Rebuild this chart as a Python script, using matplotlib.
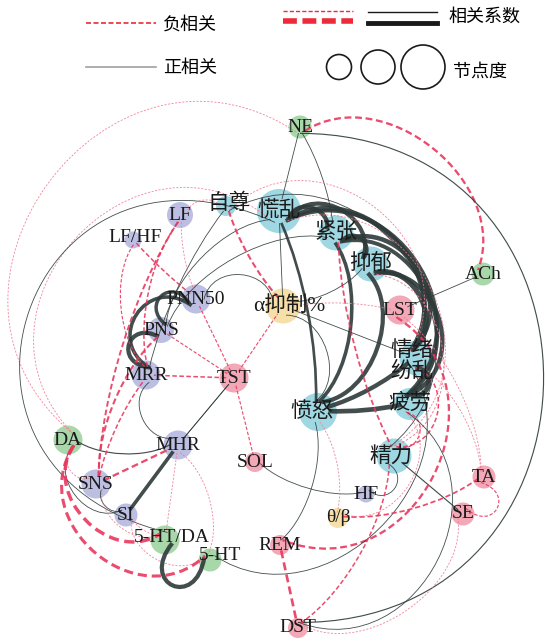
import numpy as np
import matplotlib.pyplot as plt
from matplotlib.path import Path
from matplotlib.patches import PathPatch, Circle

plt.rcParams['font.family'] = ['Liberation Serif', 'Noto Sans CJK SC']

# ===============================
# DATA
# ===============================
NODES = ["NE", "自尊", "慌乱", "紧张", "抑郁", "ACh", "LF", "LF/HF", "PNN50",
         "α抑制%", "LST", "PNS", "情绪\n纷乱", "MRR", "TST", "愤怒", "疲劳", "DA",
         "MHR", "SOL", "精力", "TA", "SNS", "HF", "θ/β", "SE", "SI", "5-HT/DA",
         "5-HT", "REM", "DST"]
GROUP = ["neuro", "emo", "emo", "emo", "emo", "neuro", "hrv", "hrv", "hrv",
         "eeg", "sleep", "hrv", "emo", "hrv", "sleep", "emo", "emo", "neuro",
         "hrv", "sleep", "emo", "sleep", "hrv", "hrv", "eeg", "sleep", "hrv", "neuro",
         "neuro", "sleep", "sleep"]
DEGREE = [5, 4, 12, 9, 9, 5, 6, 3, 7,
          9, 7, 6, 9, 7, 7, 10, 8, 7,
          7, 4, 9, 5, 7, 3, 4, 5, 5, 7,
          5, 4, 4]

# edges: source, target, correlation coefficient
EDGE_A = ["慌乱", "慌乱", "慌乱", "慌乱", "慌乱", "紧张", "紧张", "紧张", "紧张",
          "抑郁", "抑郁", "抑郁", "情绪\n纷乱", "情绪\n纷乱", "疲劳",
          "精力", "精力", "紧张", "慌乱", "抑郁", "精力", "HF", "SOL",
          "LST", "LST", "α抑制%", "TA",
          "NE", "NE", "NE", "NE", "NE", "慌乱", "慌乱",
          "DA", "DA", "MRR", "TST", "自尊", "慌乱", "紧张",
          "PNN50", "α抑制%", "α抑制%", "α抑制%", "α抑制%", "自尊",
          "PNN50", "PNN50", "PNS",
          "LF/HF", "LF", "LF", "LF", "LF/HF", "LF", "PNS", "MRR", "SNS", "SI", "SNS",
          "MHR", "MHR", "SNS", "SI", "SI", "DA",
          "TST", "TST", "TST", "TST", "TST", "TST",
          "5-HT/DA", "DA", "DA", "情绪\n纷乱",
          "REM", "DST", "DST", "SE", "REM",
          "θ/β", "θ/β", "θ/β", "TA", "TA", "自尊", "自尊"]
EDGE_B = ["紧张", "抑郁", "情绪\n纷乱", "疲劳", "愤怒", "抑郁", "情绪\n纷乱", "疲劳", "愤怒",
          "情绪\n纷乱", "疲劳", "愤怒", "疲劳", "愤怒", "愤怒",
          "疲劳", "情绪\n纷乱", "精力", "精力", "精力", "SE", "精力", "HF",
          "ACh", "REM", "LST", "LST",
          "慌乱", "紧张", "ACh", "DST", "DA", "DA", "5-HT/DA",
          "SI", "MHR", "MHR", "MHR", "MRR", "PNS", "PNS",
          "α抑制%", "抑郁", "慌乱", "愤怒", "情绪\n纷乱", "α抑制%",
          "PNS", "MRR", "MRR",
          "PNN50", "PNN50", "SNS", "MRR", "MRR", "自尊", "SNS", "SNS", "MHR", "MHR", "SI",
          "5-HT/DA", "5-HT", "5-HT/DA", "5-HT", "5-HT/DA", "SNS",
          "PNN50", "PNS", "MRR", "α抑制%", "SOL", "MHR",
          "5-HT", "5-HT/DA", "5-HT", "5-HT",
          "DST", "疲劳", "精力", "DST", "愤怒",
          "TA", "愤怒", "疲劳", "SE", "情绪\n纷乱", "情绪\n纷乱", "精力"]
EDGE_R = [0.72, 0.70, 0.80, 0.68, 0.50, 0.66, 0.74, 0.66, 0.62,
          0.82, 0.72, 0.70, 0.80, 0.72, 0.76,
          -0.32, -0.35, -0.38, -0.25, -0.28, 0.30, 0.25, 0.25,
          0.25, -0.45, -0.20, -0.20,
          0.25, 0.22, -0.45, 0.30, -0.18, -0.18, 0.25,
          0.22, 0.30, 0.22, 0.20, 0.22, 0.22, 0.22,
          0.20, 0.22, 0.20, 0.22, 0.25, -0.42,
          0.60, 0.62, 0.70,
          -0.35, -0.18, -0.40, -0.35, -0.30, -0.18, -0.42, -0.35, -0.45, 0.62, 0.20,
          -0.22, -0.18, -0.20, -0.25, -0.20, -0.20,
          -0.30, -0.30, -0.35, -0.30, -0.30, 0.20,
          0.70, -0.60, -0.55, 0.25,
          -0.50, 0.25, -0.35, -0.18, 0.22,
          -0.38, -0.18, -0.18, -0.30, -0.18, -0.18, 0.20]

# ===============================
# LAYOUT (pixel positions)
# ===============================
POS = {"NE": (300, 127), "自尊": (226, 206), "慌乱": (279, 211), "紧张": (336, 233),
       "抑郁": (371, 264), "ACh": (483, 274), "LF": (180, 215), "LF/HF": (133, 240),
       "PNN50": (196, 299), "α抑制%": (283, 306), "LST": (400, 310), "PNS": (161, 330),
       "情绪\n纷乱": (417, 358), "MRR": (146, 375), "TST": (234, 378), "愤怒": (318, 412),
       "疲劳": (410, 404), "DA": (68, 440), "MHR": (178, 445), "SOL": (255, 462),
       "精力": (394, 456), "TA": (484, 477), "SNS": (96, 484), "HF": (366, 494),
       "θ/β": (338, 518), "SE": (463, 514), "SI": (126, 515), "5-HT/DA": (165, 540),
       "5-HT": (210, 560), "REM": (280, 545), "DST": (298, 628)}
LABEL_SHIFT = {"自尊": (3, -2), "LF/HF": (2, -3), "5-HT/DA": (7, -3), "5-HT": (10, -5),
               "情绪\n纷乱": (-5, 3), "愤怒": (-6, 0), "精力": (-3, 0), "α抑制%": (6, 0)}

# curvature: peak offset / chord, positive = right-hand side of travel (screen)
BEND = {("慌乱", "紧张"): -0.38, ("慌乱", "抑郁"): -0.38, ("慌乱", "情绪\n纷乱"): -0.36,
        ("慌乱", "疲劳"): -0.40, ("慌乱", "愤怒"): -0.05, ("紧张", "抑郁"): -0.45,
        ("紧张", "情绪\n纷乱"): -0.38, ("紧张", "疲劳"): -0.36, ("紧张", "愤怒"): -0.15,
        ("抑郁", "情绪\n纷乱"): -0.35, ("抑郁", "疲劳"): -0.40, ("抑郁", "愤怒"): -0.25,
        ("情绪\n纷乱", "疲劳"): -0.55, ("情绪\n纷乱", "愤怒"): -0.05, ("疲劳", "愤怒"): -0.03,
        ("精力", "疲劳"): 0.5, ("精力", "情绪\n纷乱"): 0.4, ("紧张", "精力"): 0.05,
        ("慌乱", "精力"): -0.42, ("抑郁", "精力"): -0.35, ("HF", "精力"): 0.6,
        ("SOL", "HF"): 0.1, ("LST", "REM"): -0.42, ("α抑制%", "LST"): -0.05,
        ("TA", "LST"): 0.1, ("NE", "紧张"): -0.05, ("NE", "ACh"): -0.3,
        ("NE", "DST"): -0.5, ("NE", "DA"): 0.45, ("慌乱", "DA"): 0.45,
        ("慌乱", "5-HT/DA"): 0.62, ("DA", "SI"): 0.35, ("DA", "MHR"): 0.12,
        ("MRR", "MHR"): 0.35, ("自尊", "MRR"): 0.05, ("慌乱", "PNS"): 0.15,
        ("紧张", "PNS"): 0.15, ("PNN50", "α抑制%"): -0.4, ("α抑制%", "抑郁"): 0.1,
        ("α抑制%", "愤怒"): -0.3, ("PNN50", "PNS"): 0.8, ("PNN50", "MRR"): 0.55,
        ("PNS", "MRR"): 0.8, ("LF/HF", "PNN50"): 0.02, ("LF", "PNN50"): 0.05,
        ("LF", "SNS"): 0.06, ("LF", "MRR"): 0.1, ("LF/HF", "MRR"): 0.15,
        ("LF", "自尊"): -0.3, ("PNS", "SNS"): 0.1, ("MRR", "SNS"): 0.05,
        ("SNS", "SI"): 0.3, ("MHR", "5-HT"): -0.15, ("SNS", "5-HT/DA"): 0.25,
        ("SI", "5-HT"): 0.3, ("SI", "5-HT/DA"): 0.1, ("DA", "SNS"): 0.4,
        ("TST", "愤怒"): 0.05, ("5-HT/DA", "5-HT"): 1.1, ("DA", "5-HT/DA"): 0.35,
        ("DA", "5-HT"): 0.4, ("情绪\n纷乱", "5-HT"): -0.35, ("DST", "疲劳"): 0.4,
        ("DST", "精力"): 0.1, ("SE", "DST"): -0.25, ("REM", "愤怒"): 0.12,
        ("θ/β", "TA"): 0.08, ("θ/β", "愤怒"): 0.1, ("θ/β", "疲劳"): 0.35,
        ("TA", "SE"): -0.9, ("TA", "情绪\n纷乱"): 0.1, ("自尊", "情绪\n纷乱"): -0.4,
        ("自尊", "精力"): -0.42, ("自尊", "α抑制%"): 0.05}

FILL = {"emo": "#9fd8e3", "hrv": "#bcbfe2", "neuro": "#a8d7aa",
        "sleep": "#f2a8b6", "eeg": "#f7dfa9"}
POS_COLOR = "#2e3a39"
NEG_COLOR = "#e8385e"
NEG_LIGHT = "#f0788f"


def radius(deg):
    return 4 + 1.5 * deg


RAD = {n: radius(d) for n, d in zip(NODES, DEGREE)}


def curve(p0, p1, h):
    p0, p1 = np.array(p0, float), np.array(p1, float)
    d = p1 - p0
    L = np.hypot(*d)
    n = np.array([-d[1], d[0]]) / L
    s = h / 0.75
    a = 1 / 3 - abs(s) / 2
    c1 = p0 + a * d + s * L * n
    c2 = p1 - a * d + s * L * n
    return Path([p0, c1, c2, p1],
                [Path.MOVETO, Path.CURVE4, Path.CURVE4, Path.CURVE4])


# ===============================
# PLOT
# ===============================
fig = plt.figure(figsize=(5.45, 6.44), dpi=100)
ax = fig.add_axes([0, 0, 1, 1])
ax.set_xlim(0, 545)
ax.set_ylim(644, 0)
ax.axis("off")

# nodes
for name, grp in zip(NODES, GROUP):
    ax.add_patch(Circle(POS[name], RAD[name], facecolor=FILL[grp],
                        edgecolor="none", zorder=1))

# edges
for a, b, r in zip(EDGE_A, EDGE_B, EDGE_R):
    h = BEND.get((a, b), 0.0)
    pa, pb = np.array(POS[a], float), np.array(POS[b], float)
    u = (pb - pa) / np.hypot(*(pb - pa))
    pa = pa + u * RAD[a] * 0.55
    pb = pb - u * RAD[b] * 0.55
    w = max(0.6, 5.5 * (abs(r) - 0.15))
    if r > 0:
        patch = PathPatch(curve(pa, pb, h), facecolor="none", edgecolor=POS_COLOR,
                          linewidth=w, alpha=0.9, zorder=2)
    else:
        col = NEG_COLOR if abs(r) >= 0.3 else NEG_LIGHT
        dash = (0, (3, 1.6)) if abs(r) >= 0.3 else (0, (2.5, 1.8))
        patch = PathPatch(curve(pa, pb, h), facecolor="none", edgecolor=col,
                          linewidth=w, linestyle=dash, alpha=0.9, zorder=2)
    ax.add_patch(patch)

# labels
for name in NODES:
    x, y = POS[name]
    dx, dy = LABEL_SHIFT.get(name, (0, 0))
    cjk = any(ord(c) > 0x3000 for c in name)
    ax.text(x + dx, y + dy, name, ha="center", va="center",
            fontsize=15.5 if cjk else 14,
            color="#1a1a1a", linespacing=1.05, zorder=3)

# ===============================
# LEGEND
# ===============================
ax.plot([86, 156], [23, 23], color="#ee2a3a", lw=1.2, ls=(0, (3, 1.5)))
ax.text(163, 25, "负相关", fontsize=13, va="center")
ax.plot([86, 156], [67, 67], color="#a0a0a0", lw=1.2)
ax.text(163, 68, "正相关", fontsize=13, va="center")

ax.plot([283, 353], [11, 11], color="#ee2a3a", lw=1.0, ls=(0, (3, 1.5)))
ax.plot([283, 353], [21, 21], color="#ee2a3a", lw=4.0, ls=(0, (2.5, 1.0)))
ax.plot([368, 437], [12, 12], color="#1a1a1a", lw=1.0)
ax.plot([368, 437], [23, 23], color="#1a1a1a", lw=3.5)
ax.text(448, 17, "相关系数", fontsize=13, va="center")

for cx, rr in zip([339, 378, 423], [12.5, 17, 22]):
    ax.add_patch(Circle((cx, 67), rr, facecolor="none", edgecolor="#1a1a1a", lw=1.2))
ax.text(453, 72, "节点度", fontsize=13, va="center")

fig.savefig("out.png", dpi=100)
